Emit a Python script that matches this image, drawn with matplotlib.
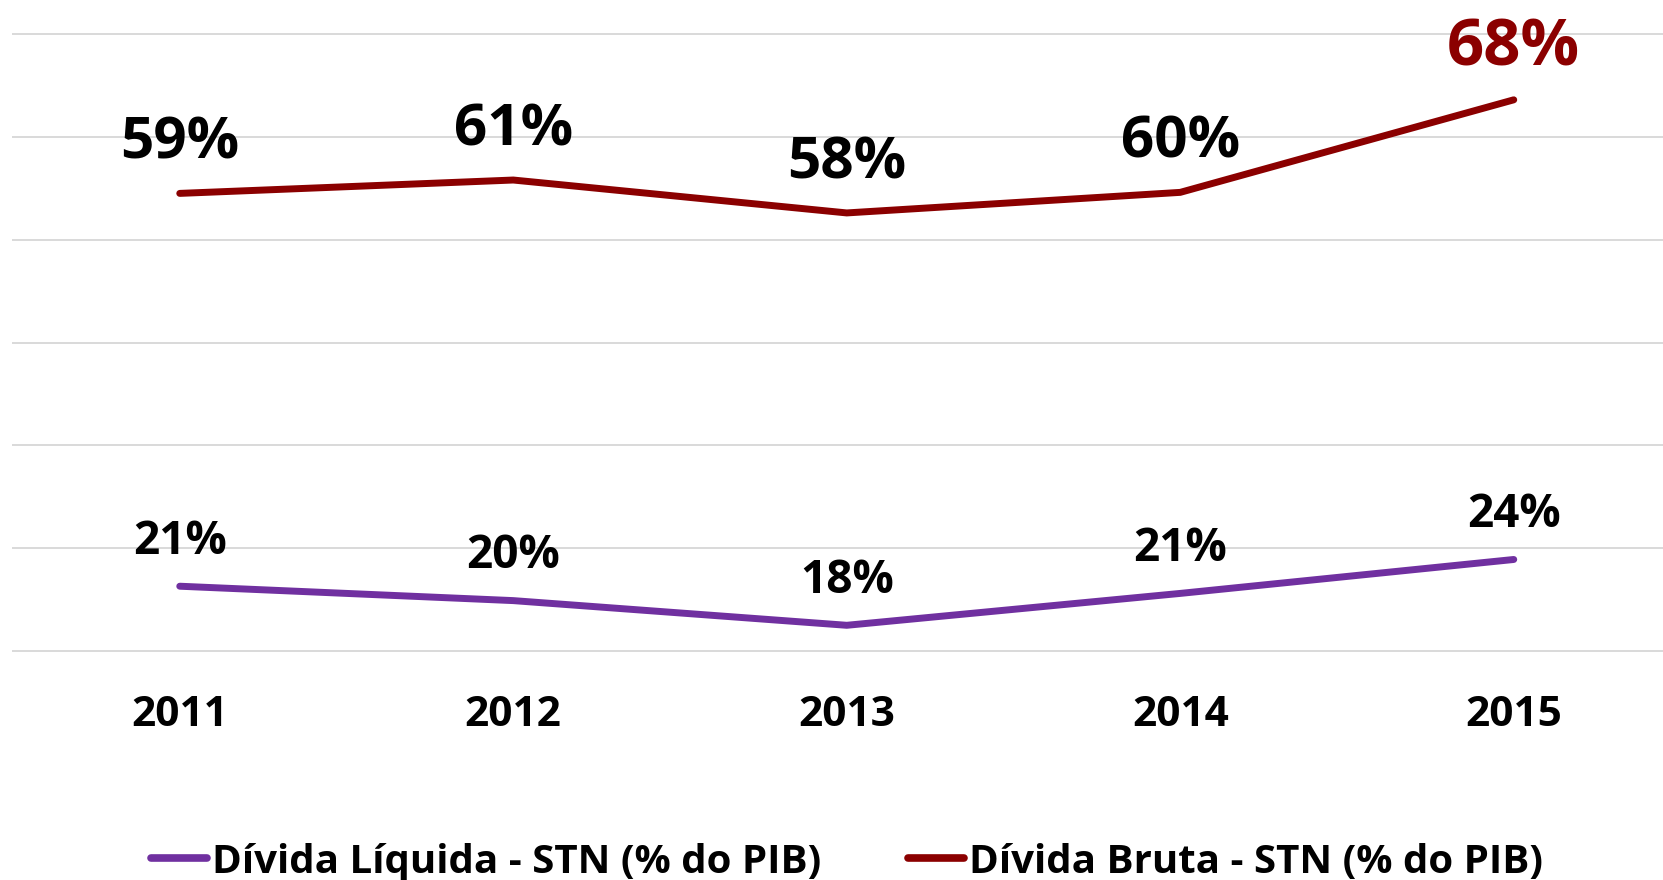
import matplotlib
matplotlib.use("Agg")
import matplotlib.pyplot as plt
from matplotlib.lines import Line2D

years = ["2011", "2012", "2013", "2014", "2015"]
bruta = [59.5, 60.8, 57.6, 59.6, 68.6]
liquida = [21.3, 19.9, 17.5, 20.6, 23.9]
bruta_labels = ["59%", "61%", "58%", "60%", "68%"]
liquida_labels = ["21%", "20%", "18%", "21%", "24%"]
grid_values = [15, 25, 35, 45, 55, 65, 75]
series_names = ["Dívida Líquida - STN (% do PIB)", "Dívida Bruta - STN (% do PIB)"]

plt.rcParams['font.family'] = ['Open Sans', 'DejaVu Sans']
plt.rcParams['font.weight'] = 'bold'

C_LIQ = "#7030A0"
C_BRU = "#8B0000"

W, H = 1663, 880
fig = plt.figure(figsize=(W / 100, H / 100), dpi=100)
ax = fig.add_axes([13 / W, 1 - 651 / H, 1667.5 / W, 617 / H])

x = list(range(len(years)))
ax.plot(x, liquida, color=C_LIQ, lw=5, solid_capstyle='round', solid_joinstyle='miter', zorder=3)
ax.plot(x, bruta, color=C_BRU, lw=5, solid_capstyle='round', solid_joinstyle='miter', zorder=3)

for i, (v, s) in enumerate(zip(bruta, bruta_labels)):
    last = i == len(bruta) - 1
    ax.annotate(s, (i, v), xytext=(0, 25), textcoords='offset points',
                ha='center', va='baseline', fontsize=47 if last else 42,
                fontweight='bold', color=C_BRU if last else 'black')
for i, (v, s) in enumerate(zip(liquida, liquida_labels)):
    ax.annotate(s, (i, v), xytext=(0, 23.5), textcoords='offset points',
                ha='center', va='baseline', fontsize=33, fontweight='bold', color='black')

ax.set_xlim(-0.5, len(years) - 0.5)
ax.set_ylim(grid_values[0], grid_values[-1])
ax.set_yticks(grid_values)
ax.set_yticklabels([])
ax.set_xticks(x)
ax.set_xticklabels(years, fontsize=30.5, fontweight='bold')
ax.tick_params(axis='both', length=0)
ax.tick_params(axis='x', pad=32)
ax.grid(axis='y', color='#d9d9d9', lw=1.4)
for gl in ax.get_ygridlines():
    gl.set_clip_on(False)
for sp in ax.spines.values():
    sp.set_visible(False)

handles = [Line2D([], [], color=C_LIQ, lw=5.5, solid_capstyle='round'),
           Line2D([], [], color=C_BRU, lw=5.5, solid_capstyle='round')]
fig.legend(handles, series_names, loc='center', bbox_to_anchor=(847 / W, 1 - 862 / H),
           ncol=2, frameon=False, prop={'weight': 'bold', 'size': 29},
           handlelength=1.38, handletextpad=0.13, columnspacing=2.16, borderpad=0, borderaxespad=0)

fig.savefig("out.png", dpi=100)
